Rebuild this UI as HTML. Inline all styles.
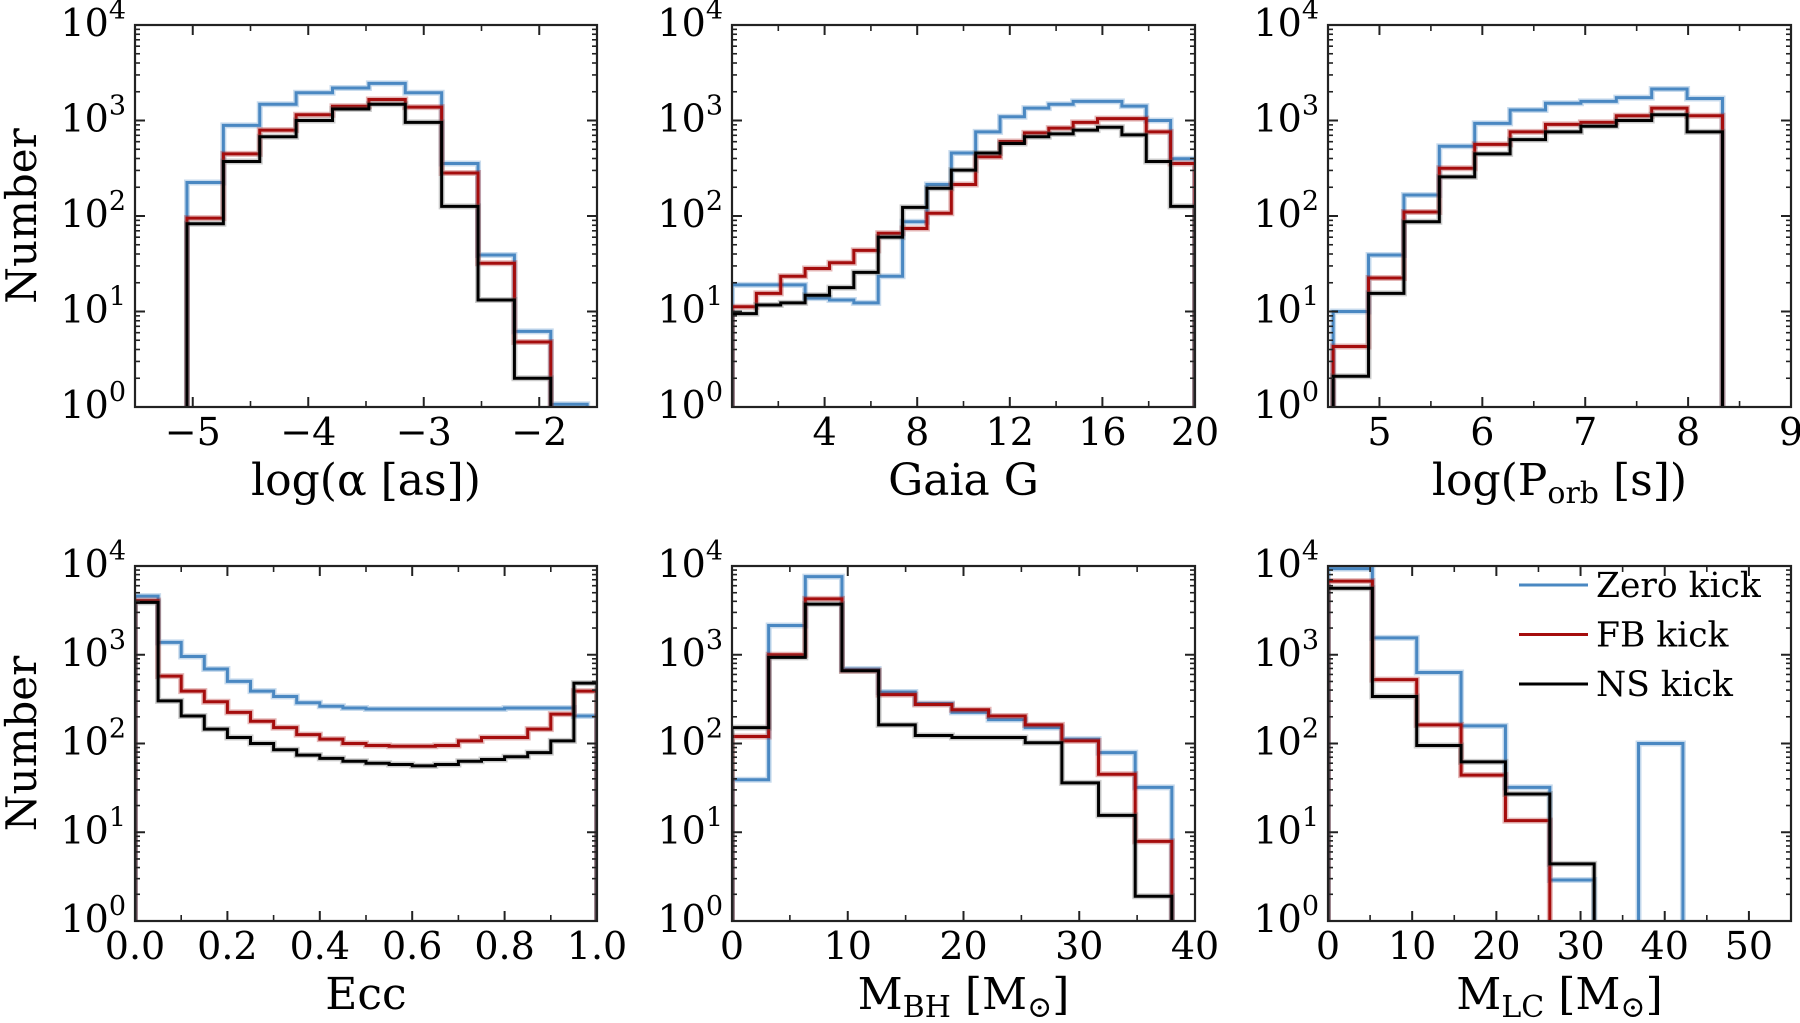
<!DOCTYPE html>
<html><head><meta charset="utf-8"><style>
html,body{margin:0;padding:0;background:#fff;}
svg{display:block;font-family:"DejaVu Serif","Liberation Serif",serif;}
</style></head><body>
<svg id="fig" xmlns="http://www.w3.org/2000/svg" width="1800" height="1023" viewBox="0 0 1800 1023"></svg>
<script>
// ---------- data ----------
const alphaEdges=[-5.05,-4.735,-4.42,-4.105,-3.79,-3.475,-3.16,-2.845,-2.53,-2.215,-1.9,-1.585];
const alphaZero=[224,890,1480,1950,2190,2450,1950,355,39,6.2,1.07];
const alphaFB=[95,447,794,1150,1410,1660,1380,282,32,4.8,0];
const alphaNS=[83,372,676,1000,1320,1480,955,126,13.2,2.0,0];

const gaiaEdges=[0,1.053,2.105,3.158,4.211,5.263,6.316,7.368,8.421,9.474,10.526,11.579,12.632,13.684,14.737,15.789,16.842,17.895,18.947,20];
const gaiaZero=[19,19,19,13.8,13.2,12.3,23.4,87,214,457,759,1096,1349,1479,1585,1585,1413,1000,398];
const gaiaFB=[11.2,15.5,23.4,28.2,32.4,43.7,66,74,107,214,417,603,741,832,955,1047,1047,759,355];
const gaiaNS=[9.5,11.7,12.3,14.8,17.8,25.7,60,123,195,302,457,575,676,724,794,851,708,372,126];

const porbEdges=[4.55,4.894,5.238,5.582,5.926,6.27,6.614,6.958,7.302,7.646,7.99,8.334];
const porbZero=[10,39,166,537,933,1288,1514,1585,1738,2138,1698];
const porbFB=[4.3,22.4,110,316,562,759,912,955,1122,1349,1122];
const porbNS=[2.1,15.5,87,257,447,631,759,871,1000,1148,759];

const eccEdges=[0,0.05,0.1,0.15,0.2,0.25,0.3,0.35,0.4,0.45,0.5,0.55,0.6,0.65,0.7,0.75,0.8,0.85,0.9,0.95,1.0];
const eccZero=[4571,1380,955,692,501,389,339,288,263,251,245,245,245,245,245,245,251,251,251,204];
const eccFB=[4074,575,389,295,224,178,151,126,112,100,95,93,93,95,107,117,117,145,214,389];
const eccNS=[3890,302,204,145,117,100,85,74,68,63,60,58,56,58,63,66,71,79,107,479];

const mbhEdges=[0,3.167,6.333,9.5,12.667,15.833,19,22.167,25.333,28.5,31.667,34.833,38];
const mbhZero=[39,2138,7586,692,380,282,224,186,151,112,79,32];
const mbhFB=[120,1000,4266,661,355,275,240,204,162,107,45,7.9];
const mbhNS=[151,933,3715,661,162,123,117,117,102,36,15.5,1.9];

const mlcEdges=[0,5.27,10.54,15.81,21.08,26.35,31.62,36.89,42.16];
const mlcZero=[9333,1549,631,158,32,2.9,0,100];
const mlcFB=[6761,525,162,44,13.5,0,0,0];
const mlcNS=[5623,339,95,62,27,4.4,0,0];

const legendLabels=["Zero kick","FB kick","NS kick"];
const yTickExps=[0,1,2,3,4];

// ---------- drawing ----------
const NS_SVG="http://www.w3.org/2000/svg";
const svg=document.getElementById('fig');
const COLORS=["#4a88c2","#a50d0d","#000000"];
const BANDS=["#4a88c2","#a50d0d","#555555"];
const SERIES_NAMES=["zero-kick","fb-kick","ns-kick"];

function mk(parent,tag,attrs,name){
  const el=document.createElementNS(NS_SVG,tag);
  for(const k in attrs) el.setAttribute(k,attrs[k]);
  
  
  parent.appendChild(el);
  return el;
}

let clipId=0;
function panel(p){
  const g=mk(svg,'g',{},p.name);
  const sx=v=>p.x0+(v-p.xmin)/(p.xmax-p.xmin)*(p.x1-p.x0);
  const sy=c=>{ if(c<1) return p.y1+4; return p.y1-Math.log10(c)/4*(p.y1-p.y0); };
  const id='clip'+(clipId++);
  const cp=mk(g,'clipPath',{id:id},'clip');
  mk(cp,'rect',{x:p.x0,y:p.y0,width:p.x1-p.x0,height:p.y1-p.y0},'clip-rect');
  p.series.forEach((vals,si)=>{
    let d='M'+sx(p.edges[0])+' '+(p.y1+4);
    for(let i=0;i<vals.length;i++){
      d+=' V'+sy(vals[i])+' H'+sx(p.edges[i+1]);
    }
    d+=' V'+(p.y1+4);
    mk(g,'path',{d:d,fill:'none',stroke:BANDS[si],'stroke-width':6,'stroke-opacity':0.3,'clip-path':'url(#'+id+')'},SERIES_NAMES[si]+'-band');
    mk(g,'path',{d:d,fill:'none',stroke:COLORS[si],'stroke-width':3,'clip-path':'url(#'+id+')'},SERIES_NAMES[si]+'-line');
  });
  mk(g,'rect',{x:p.x0,y:p.y0,width:p.x1-p.x0,height:p.y1-p.y0,fill:'none',stroke:'#222','stroke-width':2.2},'axes-frame');
  yTickExps.forEach(e=>{
    const y=sy(Math.pow(10,e));
    mk(g,'line',{x1:p.x0,x2:p.x0+10,y1:y,y2:y,stroke:'#222','stroke-width':2},'y-major-tick');
    mk(g,'line',{x1:p.x1,x2:p.x1-10,y1:y,y2:y,stroke:'#222','stroke-width':2},'y-major-tick');
    if(e<4){
      for(let m=2;m<10;m++){
        const ym=sy(m*Math.pow(10,e));
        mk(g,'line',{x1:p.x0,x2:p.x0+5,y1:ym,y2:ym,stroke:'#222','stroke-width':1.6},'y-minor-tick');
        mk(g,'line',{x1:p.x1,x2:p.x1-5,y1:ym,y2:ym,stroke:'#222','stroke-width':1.6},'y-minor-tick');
      }
    }
    const t=mk(g,'text',{x:p.x0-9,y:y+11,'text-anchor':'end','font-size':38,fill:'#000'},'y-tick-label');
    t.appendChild(document.createTextNode('10'));
    const s=mk(t,'tspan',{dy:-17,'font-size':27},'y-tick-exponent');
    s.textContent=String(e);
  });
  p.xMajor.forEach((v,i)=>{
    const x=sx(v);
    mk(g,'line',{x1:x,x2:x,y1:p.y1,y2:p.y1-10,stroke:'#222','stroke-width':2},'x-major-tick');
    mk(g,'line',{x1:x,x2:x,y1:p.y0,y2:p.y0+10,stroke:'#222','stroke-width':2},'x-major-tick');
    const t=mk(g,'text',{x:x,y:p.y1+38,'text-anchor':'middle','font-size':38,fill:'#000'},'x-tick-label');
    t.textContent=p.xLabels[i];
  });
  p.xMinor.forEach(v=>{
    const x=sx(v);
    mk(g,'line',{x1:x,x2:x,y1:p.y1,y2:p.y1-6,stroke:'#222','stroke-width':1.6},'x-minor-tick');
    mk(g,'line',{x1:x,x2:x,y1:p.y0,y2:p.y0+6,stroke:'#222','stroke-width':1.6},'x-minor-tick');
  });
  const xl=mk(g,'text',{x:(p.x0+p.x1)/2,y:p.y1+88,'text-anchor':'middle','font-size':44,fill:'#000'},'x-axis-title');
  p.xlabel.forEach(part=>{
    const ts=mk(xl,'tspan',part.sub?{'font-size':30,dy:8}:(part.after?{dy:-8}:{}),'x-axis-title-part');
    ts.textContent=part.t;
  });
  if(p.ylabel){
    const yl=mk(g,'text',{x:0,y:0,transform:'translate(36,'+((p.y0+p.y1)/2)+') rotate(-90)','text-anchor':'middle','font-size':42,fill:'#000'},'y-axis-title');
    yl.textContent='Number';
  }
  return g;
}

panel({name:'panel-alpha',x0:135,x1:597,y0:25,y1:407,xmin:-5.5,xmax:-1.5,edges:alphaEdges,series:[alphaZero,alphaFB,alphaNS],
  xMajor:[-5,-4,-3,-2],xLabels:['\u22125','\u22124','\u22123','\u22122'],xMinor:[-5.5,-4.5,-3.5,-2.5,-1.5],
  xlabel:[{t:'log(\u03b1 [as])'}],ylabel:true});
panel({name:'panel-gaia',x0:732,x1:1195,y0:25,y1:407,xmin:0,xmax:20,edges:gaiaEdges,series:[gaiaZero,gaiaFB,gaiaNS],
  xMajor:[4,8,12,16,20],xLabels:['4','8','12','16','20'],xMinor:[2,6,10,14,18],
  xlabel:[{t:'Gaia G'}],ylabel:false});
panel({name:'panel-porb',x0:1328,x1:1791,y0:25,y1:407,xmin:4.5,xmax:9,edges:porbEdges,series:[porbZero,porbFB,porbNS],
  xMajor:[5,6,7,8,9],xLabels:['5','6','7','8','9'],xMinor:[5.5,6.5,7.5,8.5],
  xlabel:[{t:'log(P'},{t:'orb',sub:true},{t:' [s])',after:true}],ylabel:false});
panel({name:'panel-ecc',x0:135,x1:597,y0:566,y1:921,xmin:0,xmax:1,edges:eccEdges,series:[eccZero,eccFB,eccNS],
  xMajor:[0,0.2,0.4,0.6,0.8,1.0],xLabels:['0.0','0.2','0.4','0.6','0.8','1.0'],xMinor:[0.1,0.3,0.5,0.7,0.9],
  xlabel:[{t:'Ecc'}],ylabel:true});
panel({name:'panel-mbh',x0:732,x1:1195,y0:566,y1:921,xmin:0,xmax:40,edges:mbhEdges,series:[mbhZero,mbhFB,mbhNS],
  xMajor:[0,10,20,30,40],xLabels:['0','10','20','30','40'],xMinor:[5,15,25,35],
  xlabel:[{t:'M'},{t:'BH',sub:true},{t:' [M',after:true},{t:'\u2299',sub:true},{t:']',after:true}],ylabel:false});
const p6=panel({name:'panel-mlc',x0:1328,x1:1791,y0:566,y1:921,xmin:0,xmax:55,edges:mlcEdges,series:[mlcZero,mlcFB,mlcNS],
  xMajor:[0,10,20,30,40,50],xLabels:['0','10','20','30','40','50'],xMinor:[5,15,25,35,45],
  xlabel:[{t:'M'},{t:'LC',sub:true},{t:' [M',after:true},{t:'\u2299',sub:true},{t:']',after:true}],ylabel:false});

const lg=mk(p6,'g',{},'legend');
legendLabels.forEach((lab,i)=>{
  const y=585+i*49.5;
  mk(lg,'line',{x1:1519,x2:1588,y1:y,y2:y,stroke:COLORS[i],'stroke-width':3},'legend-swatch-'+SERIES_NAMES[i]);
  const t=mk(lg,'text',{x:1596,y:y+12,'font-size':34.5,fill:'#000'},'legend-label-'+SERIES_NAMES[i]);
  t.textContent=lab;
});
</script>
</body></html>
